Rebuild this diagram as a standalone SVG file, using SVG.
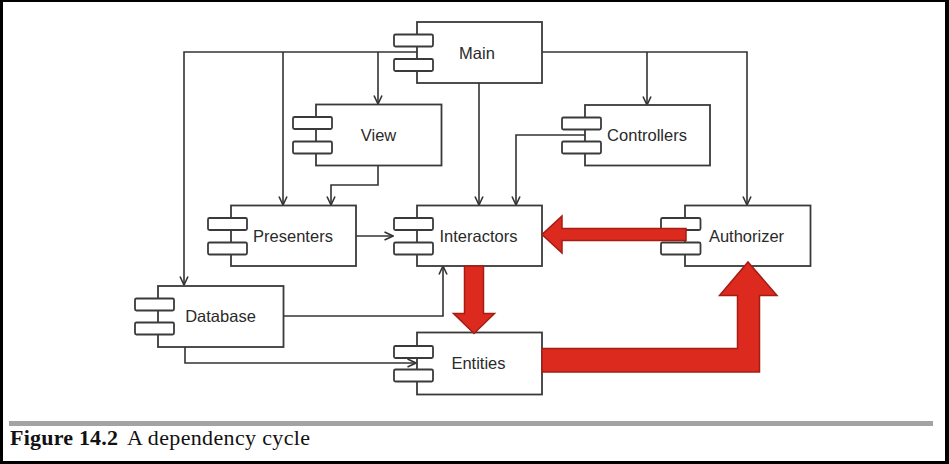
<svg xmlns="http://www.w3.org/2000/svg" width="949" height="464" viewBox="0 0 949 464">
<style>
.box{fill:#fff;stroke:#3a3a3a;stroke-width:1.8}
.tab{fill:#fff;stroke:#3a3a3a;stroke-width:1.8}
.lbl{font-family:"Liberation Sans",Arial,sans-serif;font-size:16.5px;fill:#2a2a2a;text-anchor:middle}
.con{fill:none;stroke:#333;stroke-width:1.6}
.red{fill:#dc2a1e;stroke:#a51c14;stroke-width:1.5;stroke-linejoin:miter}
</style>
<defs>
<marker id="ah" viewBox="0 0 10 10" refX="9.5" refY="5" markerWidth="10" markerHeight="10" markerUnits="userSpaceOnUse" orient="auto">
<path d="M1,1 L9.5,5 L1,9" fill="none" stroke="#333" stroke-width="1.6"/>
</marker>
</defs>
<rect x="0" y="0" width="949" height="464" fill="#000"/>
<rect x="3" y="2" width="942" height="459" fill="#fff"/>
<rect x="9" y="421" width="924" height="5" fill="#a3a3a3"/>
<text y="445" font-family="'Liberation Serif','Times New Roman',serif" font-size="22" fill="#111"><tspan x="10" font-weight="bold" textLength="108">Figure 14.2</tspan><tspan x="127" textLength="183">A dependency cycle</tspan></text>

<g id="connectors">
<path class="con" d="M417,52 L184,52 L184,285" marker-end="url(#ah)"/>
<path class="con" d="M283,52 L283,205" marker-end="url(#ah)"/>
<path class="con" d="M378,52 L378,104" marker-end="url(#ah)"/>
<path class="con" d="M479,83 L479,205" marker-end="url(#ah)"/>
<path class="con" d="M542,52 L747,52 L747,205" marker-end="url(#ah)"/>
<path class="con" d="M647,52 L647,105" marker-end="url(#ah)"/>
<path class="con" d="M378,166 L378,185 L331,185 L331,205" marker-end="url(#ah)"/>
<path class="con" d="M585,135 L516,135 L516,205" marker-end="url(#ah)"/>
<path class="con" d="M356,236 L393,236" marker-end="url(#ah)"/>
<path class="con" d="M283,316 L443,316 L443,266" marker-end="url(#ah)"/>
<path class="con" d="M185,347 L185,363 L416,363" marker-end="url(#ah)"/>
</g>

<g id="main">
<rect class="box" x="417" y="22" width="125" height="61"/>
<rect class="tab" x="394" y="34.5" width="39" height="12" rx="1.5"/>
<rect class="tab" x="394" y="59" width="39" height="12" rx="1.5"/>
<text class="lbl" x="477" y="58.5">Main</text>
</g>
<g id="view">
<rect class="box" x="316" y="104.5" width="125.5" height="61"/>
<rect class="tab" x="293" y="117" width="39" height="12" rx="1.5"/>
<rect class="tab" x="293" y="141.5" width="39" height="12" rx="1.5"/>
<text class="lbl" x="378.5" y="141">View</text>
</g>
<g id="controllers">
<rect class="box" x="585" y="105" width="125" height="60.5"/>
<rect class="tab" x="562" y="117.5" width="39" height="12" rx="1.5"/>
<rect class="tab" x="562" y="141.5" width="39" height="12" rx="1.5"/>
<text class="lbl" x="647" y="141">Controllers</text>
</g>
<g id="presenters">
<rect class="box" x="231" y="205.5" width="125" height="60.5"/>
<rect class="tab" x="208" y="218" width="39" height="12" rx="1.5"/>
<rect class="tab" x="208" y="242.5" width="39" height="12" rx="1.5"/>
<text class="lbl" x="293" y="241.5">Presenters</text>
</g>
<g id="interactors">
<rect class="box" x="417" y="205.5" width="125" height="60.5"/>
<rect class="tab" x="394" y="218" width="39" height="12" rx="1.5"/>
<rect class="tab" x="394" y="242.5" width="39" height="12" rx="1.5"/>
<text class="lbl" x="478.5" y="241.5">Interactors</text>
</g>
<g id="authorizer">
<rect class="box" x="685" y="205.5" width="125.5" height="60.5"/>
<rect class="tab" x="661" y="218" width="39.5" height="12" rx="1.5"/>
<rect class="tab" x="661" y="242.5" width="39.5" height="12" rx="1.5"/>
<text class="lbl" x="746.5" y="241.5">Authorizer</text>
</g>
<g id="database">
<rect class="box" x="158" y="286" width="125.5" height="61"/>
<rect class="tab" x="135" y="298.5" width="39" height="12" rx="1.5"/>
<rect class="tab" x="135" y="322.5" width="39" height="12" rx="1.5"/>
<text class="lbl" x="220.5" y="322">Database</text>
</g>
<g id="entities">
<rect class="box" x="417" y="332.5" width="125" height="62"/>
<rect class="tab" x="394" y="346" width="39" height="12" rx="1.5"/>
<rect class="tab" x="394" y="369.5" width="39" height="12" rx="1.5"/>
<text class="lbl" x="478.5" y="369">Entities</text>
</g>

<g id="cycle">
<path class="red" d="M686,228.5 L562,228.5 L562,216 L542,234.5 L562,253 L562,240.5 L686,240.5 Z"/>
<path class="red" d="M464.5,266 L483.5,266 L483.5,313.5 L494.5,313.5 L474,333.5 L453.5,313.5 L464.5,313.5 Z"/>
<path class="red" d="M542,348.5 L737.5,348.5 L737.5,295.5 L719.5,295.5 L748,262 L777,295.5 L759.5,295.5 L759.5,372 L542,372 Z"/>
</g>
</svg>
